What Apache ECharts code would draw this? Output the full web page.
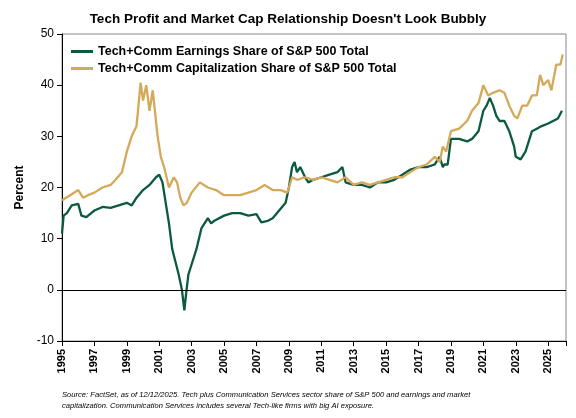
<!DOCTYPE html><html><head><meta charset="utf-8"><script src="https://cdn.jsdelivr.net/npm/echarts@6/dist/echarts.min.js"></script></head><body style="margin:0"><div id="c" style="width:576px;height:418px"></div><script>
const earnYears=[1995,1995.1,1995.3,1995.6,1996,1996.2,1996.5,1996.8,1997,1997.5,1998,1998.5,1999,1999.3,1999.6,2000,2000.4,2000.8,2001,2001.2,2001.4,2001.6,2001.8,2002,2002.2,2002.4,2002.55,2002.65,2002.8,2003,2003.3,2003.6,2004,2004.2,2004.4,2005,2005.5,2006,2006.5,2007,2007.3,2007.7,2008,2008.4,2008.8,2009,2009.2,2009.35,2009.5,2009.7,2010,2010.2,2010.5,2011,2011.5,2012,2012.3,2012.5,2013,2013.5,2014,2014.5,2015,2015.5,2016,2016.5,2017,2017.5,2018,2018.3,2018.5,2018.6,2018.8,2019,2019.5,2020,2020.3,2020.7,2021,2021.2,2021.4,2021.6,2021.8,2022,2022.3,2022.6,2022.9,2023,2023.3,2023.6,2024,2024.3,2024.6,2025,2025.3,2025.6,2025.85];
const earnVals=[11,14.5,15,16.5,16.8,14.5,14.2,15,15.5,16.2,16,16.5,17,16.5,18,19.5,20.5,22,22.5,21,17,13,8,5.5,3,0,-4,-1,3,5,8,12,14,13,13.5,14.5,15,15,14.5,14.8,13.2,13.5,14,15.5,17,20,24,25,23,24,22,21,21.5,22,22.5,23,24,21,20.5,20.5,20,21,21,21.5,22.5,23.5,24,24,24.5,26,24,24.5,24.5,29.5,29.5,29,29.5,31,35,36,37.5,36,34,33,33,31,28,26,25.5,27,31,31.5,32,32.5,33,33.5,35];
const capYears=[1995,1995.5,1996,1996.3,1996.6,1997,1997.5,1998,1998.3,1998.7,1999,1999.3,1999.6,1999.85,2000,2000.2,2000.4,2000.6,2000.9,2001.1,2001.3,2001.6,2001.9,2002.1,2002.3,2002.5,2002.7,2003,2003.5,2004,2004.5,2005,2005.5,2006,2006.5,2007,2007.5,2008,2008.5,2008.9,2009.2,2009.5,2010,2010.5,2011,2011.5,2012,2012.5,2013,2013.5,2014,2014.5,2015,2015.5,2016,2016.5,2017,2017.5,2018,2018.3,2018.5,2018.7,2019,2019.5,2020,2020.3,2020.7,2021,2021.3,2021.6,2022,2022.3,2022.6,2022.9,2023.1,2023.4,2023.7,2024,2024.3,2024.5,2024.7,2025,2025.2,2025.5,2025.75,2025.9];
const capVals=[17.5,18.5,19.5,18,18.5,19,20,20.5,21.5,23,27,30,32,40.5,37,40,35,39,30,26,24,20,22,21,18,16.5,17,19,21,20,19.5,18.5,18.5,18.5,19,19.5,20.5,19.5,19.5,19,22,21.5,22,21.5,22,21.5,21,22,20.5,21,20.5,21,21.5,22,22,23,24,24.5,26,25,28,27,31,31.5,33,35,36.5,40,38,38.5,39,38.5,36,34,33.5,36,36,38,38,42,40,41,39,44,44,46];
const earnData=earnYears.map((y,i)=>[y,earnVals[i]]);
const capData=capYears.map((y,i)=>[y,capVals[i]]);
const ch=echarts.init(document.getElementById('c'));
ch.setOption({
 animation:false,
 title:{text:"Tech Profit and Market Cap Relationship Doesn't Look Bubbly",left:'center',top:7,textStyle:{fontFamily:'Liberation Sans',fontSize:13.5,fontWeight:'bold',color:'#000'}},
 grid:{left:62,right:10,top:34,bottom:77,show:true,borderColor:'#888',borderWidth:1},
 legend:{left:66,top:40,orient:'vertical',itemGap:4,itemWidth:22,itemHeight:3,icon:'rect',textStyle:{fontFamily:'Liberation Sans',fontSize:12.5,fontWeight:'bold',color:'#000'}},
 xAxis:{type:'value',min:1995,max:2026.1,interval:2,axisLine:{onZero:false,lineStyle:{color:'#000'}},axisTick:{show:true,inside:false,lineStyle:{color:'#000'}},splitLine:{show:false},
   axisLabel:{rotate:90,color:'#000',fontFamily:'Liberation Sans',fontSize:11,fontWeight:'bold',formatter:v=>v>2025.5?'':String(v)}},
 yAxis:{type:'value',min:-10,max:50,interval:10,name:'Percent',nameLocation:'middle',nameGap:36,nameTextStyle:{fontFamily:'Liberation Sans',fontSize:12,fontWeight:'bold',color:'#000'},
   axisLine:{show:true,lineStyle:{color:'#000'}},axisTick:{show:true,lineStyle:{color:'#000'}},splitLine:{show:false},axisLabel:{color:'#000',fontFamily:'Liberation Sans',fontSize:12}},
 series:[
  {name:'Tech+Comm Earnings Share of S&P 500 Total',type:'line',data:earnData,symbol:'none',lineStyle:{color:'#0b5a3f',width:2.3},itemStyle:{color:'#0b5a3f'},
   markLine:{silent:true,symbol:'none',label:{show:false},lineStyle:{color:'#000',width:1,type:'solid'},data:[{yAxis:0}]}},
  {name:'Tech+Comm Capitalization Share of S&P 500 Total',type:'line',data:capData,symbol:'none',lineStyle:{color:'#d4a95a',width:2.3},itemStyle:{color:'#d4a95a'}}
 ],
 graphic:[{type:'text',left:62,top:389,style:{text:'Source: FactSet, as of 12/12/2025. Tech plus Communication Services sector share of S&P 500 and earnings and market\ncapitalization. Communication Services includes several Tech-like firms with big AI exposure.',font:'italic 7.6px Liberation Sans',fill:'#000',lineHeight:11}}]
});
</script></body></html>
